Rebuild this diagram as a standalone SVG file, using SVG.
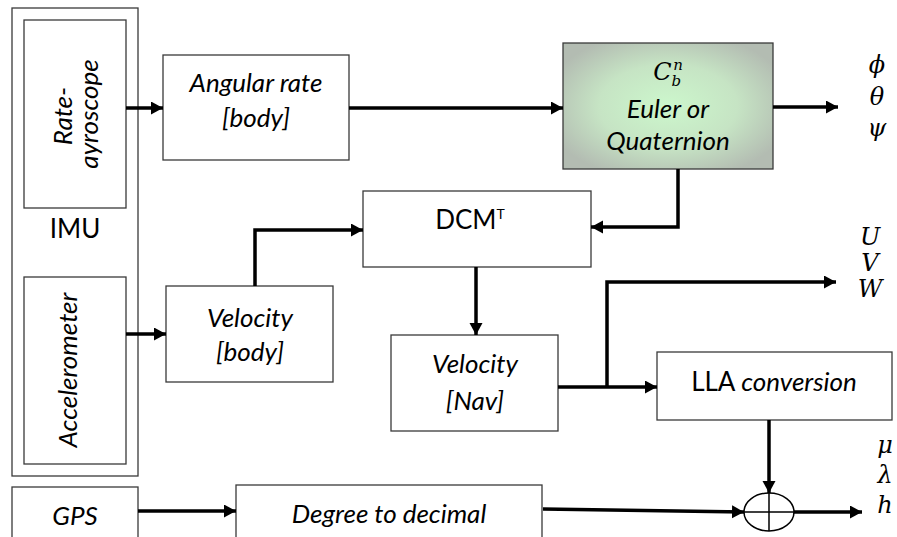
<svg xmlns="http://www.w3.org/2000/svg" width="897" height="537" viewBox="0 0 897 537">
<style>
.box{fill:#fff;stroke:#3a3a3a;stroke-width:1.3}
.lbl{font-family:Lato,"Open Sans","Liberation Sans",sans-serif;font-size:26px;fill:#000;text-anchor:middle}
.it{font-style:italic}
.math{font-family:"DejaVu Serif","Liberation Serif",serif;font-style:italic;font-size:24px;fill:#000;text-anchor:middle}
.wire{fill:none;stroke:#000;stroke-width:3.5}
</style>
<defs>
<marker id="ah" markerUnits="userSpaceOnUse" markerWidth="14" markerHeight="14" refX="12" refY="6.5" orient="auto">
<path d="M0,0 L12,6.5 L0,13 z" fill="#000"/>
</marker>
<radialGradient id="g" cx="50%" cy="50%" r="60%">
<stop offset="0" stop-color="#ccf7cc"/>
<stop offset="0.55" stop-color="#c6e4c4"/>
<stop offset="1" stop-color="#b3bcb2"/>
</radialGradient>
</defs>
<g id="imu">
<rect class="box" x="12" y="8" width="126" height="468"/>
<text class="lbl" x="75" y="238">IMU</text>
</g>
<g id="gyro">
<rect class="box" x="24" y="20" width="102" height="188"/>
<text class="lbl it" transform="translate(72,116) rotate(-90)">Rate-</text>
<text class="lbl it" transform="translate(98,114) rotate(-90)">ayroscope</text>
</g>
<g id="accel">
<rect class="box" x="24" y="277" width="102" height="187"/>
<text class="lbl it" transform="translate(77,370) rotate(-90)">Accelerometer</text>
</g>
<g id="gps">
<rect class="box" x="12" y="487" width="126" height="60"/>
<text class="lbl it" x="75" y="525">GPS</text>
</g>
<g id="angular">
<rect class="box" x="163" y="55" width="186" height="105"/>
<text class="lbl it" x="256" y="92">Angular rate</text>
<text class="lbl it" x="256" y="127">[body]</text>
</g>
<g id="cbn">
<rect x="563" y="43" width="210" height="126" fill="url(#g)" stroke="#3a3a3a" stroke-width="1.3"/>
<text class="math" x="668" y="80"><tspan font-size="24">C</tspan><tspan font-size="15" dy="6">b</tspan><tspan font-size="15" dx="-8" dy="-16">n</tspan></text>
<text class="lbl it" x="668" y="118">Euler or</text>
<text class="lbl it" x="668" y="150">Quaternion</text>
</g>
<g id="dcm">
<rect class="box" x="363" y="191" width="228" height="76"/>
<text class="lbl" x="470" y="229">DCM<tspan font-size="14" dy="-10">T</tspan></text>
</g>
<g id="velbody">
<rect class="box" x="166" y="286" width="167" height="96"/>
<text class="lbl it" x="250" y="327">Velocity</text>
<text class="lbl it" x="250" y="361">[body]</text>
</g>
<g id="velnav">
<rect class="box" x="391" y="335" width="167" height="96"/>
<text class="lbl it" x="475" y="373">Velocity</text>
<text class="lbl it" x="475" y="410">[Nav]</text>
</g>
<g id="lla">
<rect class="box" x="657" y="352" width="235" height="68"/>
<text class="lbl" x="774" y="391">LLA <tspan class="it">conversion</tspan></text>
</g>
<g id="deg">
<rect class="box" x="236" y="485" width="306" height="60"/>
<text class="lbl it" x="389" y="523">Degree to decimal</text>
</g>
<g id="sum">
<ellipse cx="769" cy="512" rx="25" ry="19" fill="#fff" stroke="#000" stroke-width="1.5"/>
<path d="M744,512 H794 M769,493 V531" stroke="#000" stroke-width="1.5"/>
</g>
<g id="outputs">
<text class="math" x="877" y="73">ϕ</text>
<text class="math" x="877" y="105">θ</text>
<text class="math" x="877" y="136">ψ</text>
<text class="math" x="870" y="245" font-size="21">U</text>
<text class="math" x="870" y="271" font-size="21">V</text>
<text class="math" x="870" y="297" font-size="21">W</text>
<text class="math" x="885" y="453">μ</text>
<text class="math" x="885" y="483">λ</text>
<text class="math" x="885" y="513">h</text>
</g>
<g id="connectors">
<path class="wire" d="M126,108 H163" marker-end="url(#ah)"/>
<path class="wire" d="M126,334 H166" marker-end="url(#ah)"/>
<path class="wire" d="M349,108 H563" marker-end="url(#ah)"/>
<path class="wire" d="M773,107 H838" marker-end="url(#ah)"/>
<path class="wire" d="M678,169 V227 H591" marker-end="url(#ah)"/>
<path class="wire" d="M255,286 V230 H363" marker-end="url(#ah)"/>
<path class="wire" d="M476,267 V335" marker-end="url(#ah)"/>
<path class="wire" d="M558,387 H657" marker-end="url(#ah)"/>
<path class="wire" d="M607,387 V282 H836" marker-end="url(#ah)"/>
<path class="wire" d="M769,420 V493" marker-end="url(#ah)"/>
<path class="wire" d="M138,511 H236" marker-end="url(#ah)"/>
<path class="wire" d="M543,509 L744,512" marker-end="url(#ah)"/>
<path class="wire" d="M794,512 H862" marker-end="url(#ah)"/>
</g>
</svg>
